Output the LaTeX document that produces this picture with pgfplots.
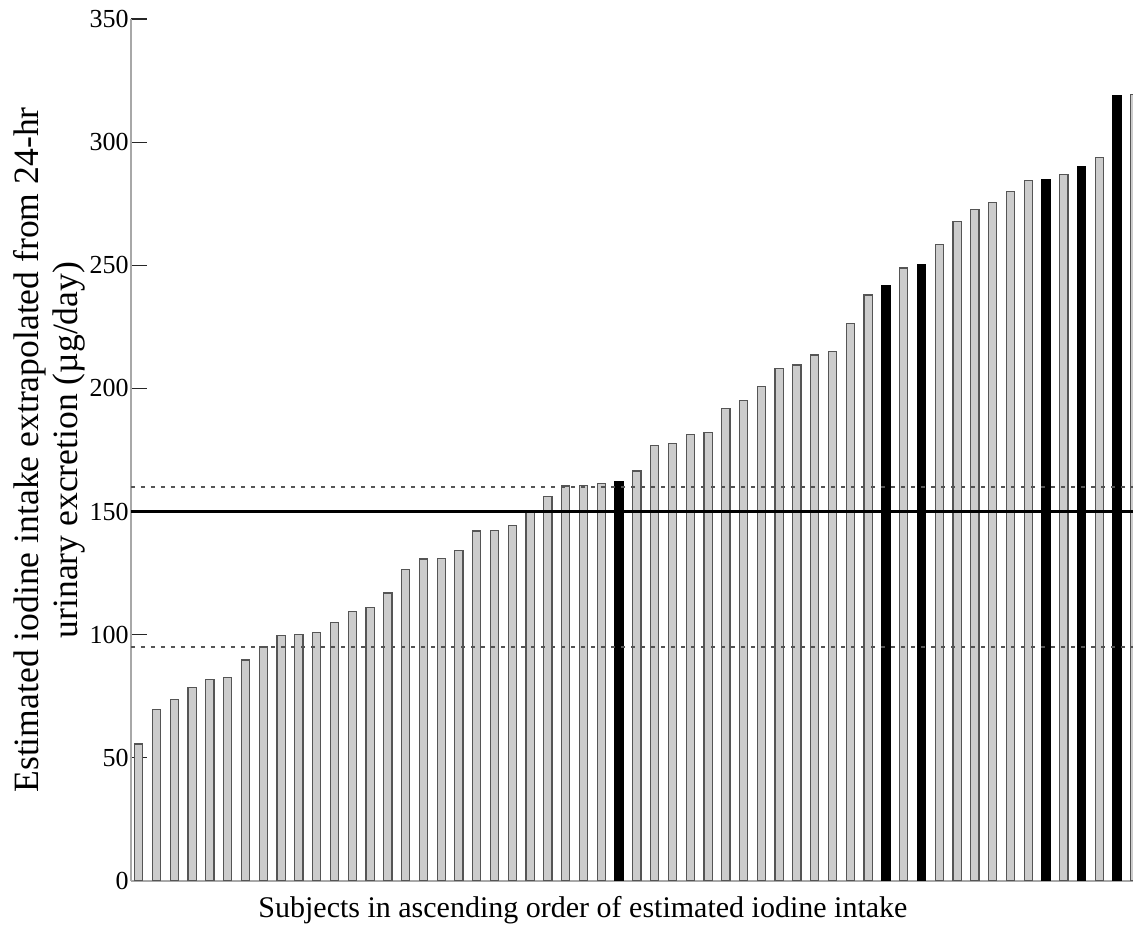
\documentclass[border=0pt]{standalone}
\usepackage{pgfplots}
\pgfplotsset{compat=1.18}
\usepackage{pgfplotstable}
\usepackage{fontspec}
\setmainfont{Liberation Serif}
\usetikzlibrary{calc}
\definecolor{bargrey}{HTML}{CCCCCC}
\definecolor{edgegrey}{HTML}{555555}
\definecolor{axisgrey}{HTML}{A8A8A8}

\pgfplotstableread{
x y
1 55.6
2 69.7
3 73.6
4 78.5
5 81.9
6 82.5
7 89.7
8 95.0
9 99.7
10 100.1
11 100.9
12 104.9
13 109.5
14 111.1
15 116.9
16 126.4
17 130.7
18 131.1
19 134.1
20 142.1
21 142.2
22 144.5
23 150.2
24 156.2
25 160.4
26 160.6
27 161.3
29 166.5
30 176.7
31 177.5
32 181.2
33 182.2
34 191.9
35 195.1
36 200.9
37 208.1
38 209.5
39 213.6
40 215.0
41 226.2
42 237.9
44 248.9
46 258.4
47 267.7
48 272.5
49 275.4
50 279.9
51 284.3
53 286.8
55 293.8
57 319.3
}\greybars

\pgfplotstableread{
x y
28 162.3
43 241.9
45 250.4
52 284.7
54 290.2
56 318.9
}\blackbars

\begin{document}
\begin{tikzpicture}
\begin{axis}[
  scale only axis,
  width=501pt, height=431pt,
  xmin=0.562, xmax=56.89,
  ymin=0, ymax=350,
  ytick={0,50,...,350},
  xtick=\empty,
  axis lines=left,
  axis line style={-, draw=axisgrey, line width=1.4pt},
  ytick style={black!85, line width=0.6pt},
  tick align=inside,
  major tick length=8pt,
  /pgf/number format/assume math mode=true,
  yticklabel style={font=\fontsize{13}{15}\selectfont, inner sep=1pt},
  ylabel={Estimated iodine intake extrapolated from 24-hr\\urinary excretion (µg/day)},
  ylabel style={font=\fontsize{17.8}{19.5}\selectfont, align=center, at={(axis description cs:-0.0818,0.5)}, anchor=center},
  xlabel={Subjects in ascending order of estimated iodine intake},
  xlabel style={font=\fontsize{15}{18}\selectfont, at={(axis description cs:0.451,-0.0336)}, anchor=center},
]
\addplot[ybar, bar shift=0pt, bar width=4.1pt, fill=bargrey, draw=edgegrey, line width=0.6pt] table[x=x,y=y]{\greybars};
\addplot[ybar, bar shift=0pt, bar width=4.1pt, fill=black, draw=black, line width=0.6pt] table[x=x,y=y]{\blackbars};
\addplot[black, line width=1.4pt] coordinates {(0.562,150) (56.89,150)};
\addplot[edgegrey, line width=0.8pt, dash pattern=on 1.8pt off 3.2pt] coordinates {(0.562,160) (56.89,160)};
\addplot[edgegrey, line width=0.8pt, dash pattern=on 1.8pt off 3.2pt] coordinates {(0.562,95) (56.89,95)};
\coordinate (bl) at (rel axis cs:0,0);
\coordinate (tr) at (rel axis cs:1,1);
\end{axis}
\pgfresetboundingbox
\path ($(bl)+(-65.5pt,-25.5pt)$) rectangle ($(tr)+(0,9.5pt)$);
\end{tikzpicture}
\end{document}
